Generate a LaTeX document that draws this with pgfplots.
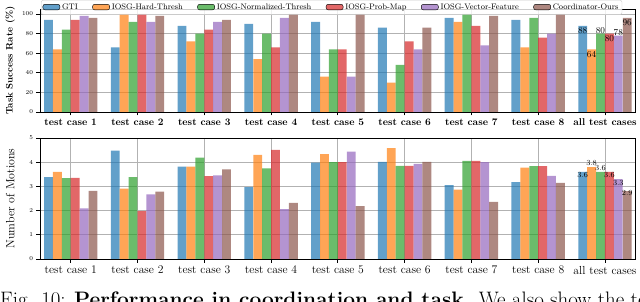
\documentclass[border=0pt]{standalone}
\usepackage{pgfplots}
\usepackage{pgfplotstable}
\pgfplotsset{compat=1.18}
\definecolor{tBlue}{RGB}{31,119,180}
\definecolor{tOrange}{RGB}{255,127,14}
\definecolor{tGreen}{RGB}{44,160,44}
\definecolor{tRed}{RGB}{214,39,40}
\definecolor{tPurple}{RGB}{148,103,189}
\definecolor{tBrown}{RGB}{140,86,75}

\pgfplotstableread{
x gti hard norm prob vec ours
0 94 64 84 94 98 96
1 66 100 92 100 92 98
2 88 72 80 84 92 94
3 90 54 80 66 96 100
4 92 36 64 64 36 100
5 86 30 48 72 64 86
6 96 92 100 88 68 98
7 94 66 96 76 80 100
8 88 64 80 80 78 96
}\successtable

\pgfplotstableread{
x gti hard norm prob vec ours
0 3.38 3.60 3.34 3.35 2.09 2.82
1 4.48 2.91 3.38 1.98 2.67 2.78
2 3.82 3.82 4.19 3.42 3.46 3.70
3 2.97 4.30 3.74 4.51 2.06 2.32
4 3.98 4.33 4.00 4.00 4.44 2.19
5 4.01 4.58 3.85 3.85 3.93 4.01
6 3.05 2.87 4.05 4.05 4.00 2.36
7 3.18 3.78 3.84 3.84 3.44 3.15
8 3.60 3.80 3.60 3.60 3.30 2.80
}\motiontable

\pgfplotsset{
  mybase/.style={
    scale only axis, width=595bp,
    xmin=-0.46, xmax=8.45,
    ybar, bar width=0.133,
    xtick={0,...,8},
    xticklabels={test case 1,test case 2,test case 3,test case 4,test case 5,test case 6,test case 7,test case 8,all test cases},
    grid=major, major grid style={color=black!30, line width=0.8bp},
    axis line style={line width=0.8bp},
    tick style={black, line width=0.8bp},
    tick align=outside, major tick length=3.5bp, tick pos=left,
    yticklabel style={font=\fontsize{6.5}{7}\selectfont},
    ylabel style={at={(axis description cs:-0.05,0.5)}, anchor=center},
  },
  bGTI/.style={fill=tBlue, fill opacity=0.7, draw=none, bar shift=-0.3333},
  bHard/.style={fill=tOrange, fill opacity=0.7, draw=none, bar shift=-0.2},
  bNorm/.style={fill=tGreen, fill opacity=0.7, draw=none, bar shift=-0.0667},
  bProb/.style={fill=tRed, fill opacity=0.7, draw=none, bar shift=0.0667},
  bVec/.style={fill=tPurple, fill opacity=0.7, draw=none, bar shift=0.2},
  bOurs/.style={fill=tBrown, fill opacity=0.7, draw=none, bar shift=0.3333},
}

\begin{document}
\begin{tikzpicture}
\useasboundingbox (0,0) rectangle (640bp,302bp);

\begin{axis}[mybase,
  at={(40bp,190bp)}, anchor=south west,
  height=102.9bp,
  ymin=0, ymax=105, ytick={0,20,...,100},
  xticklabel style={font=\fontsize{10}{12}\selectfont\bfseries},
  ylabel={\textbf{Task Success Rate (\%)}},
  ylabel style={font=\fontsize{9.5}{11}\selectfont},
  legend columns=6,
  legend style={at={(rel axis cs:0,1)}, anchor=north west, xshift=1bp, yshift=9bp,
    draw=black!20, fill=white, fill opacity=0.8, text opacity=1,
    rounded corners=2bp, inner sep=1.5bp,
    font=\fontsize{8}{9}\selectfont,
    /tikz/every even column/.append style={column sep=12.5bp}},
  legend image code/.code={\draw[#1] (0bp,-2.5bp) rectangle (17bp,3bp);},
]
\addplot[bGTI] table[x=x,y=gti]{\successtable};
\addplot[bHard] table[x=x,y=hard]{\successtable};
\addplot[bNorm] table[x=x,y=norm]{\successtable};
\addplot[bProb] table[x=x,y=prob]{\successtable};
\addplot[bVec] table[x=x,y=vec]{\successtable};
\addplot[bOurs] table[x=x,y=ours]{\successtable};
\legend{GTI,IOSG-Hard-Thresh,IOSG-Normalized-Thresh,IOSG-Prob-Map,IOSG-Vector-Feature,Coordinator-Ours}
\begin{scope}[every node/.style={font=\fontsize{9}{10}\selectfont, inner sep=0pt}]
\node at (axis cs:7.667,83) {88};
\node at (axis cs:7.8,58.5) {64};
\node at (axis cs:7.933,83) {80};
\node at (axis cs:8.067,74.5) {80};
\node at (axis cs:8.2,81.3) {78};
\node at (axis cs:8.333,91) {96};
\end{scope}
\end{axis}

\begin{axis}[mybase,
  at={(40bp,43bp)}, anchor=south west,
  height=121bp,
  ymin=0, ymax=5, ytick={0,...,5},
  xticklabel style={font=\fontsize{11.7}{13}\selectfont},
  ylabel={Number of Motions},
  ylabel style={font=\fontsize{12}{13}\selectfont},
]
\addplot[bGTI] table[x=x,y=gti]{\motiontable};
\addplot[bHard] table[x=x,y=hard]{\motiontable};
\addplot[bNorm] table[x=x,y=norm]{\motiontable};
\addplot[bProb] table[x=x,y=prob]{\motiontable};
\addplot[bVec] table[x=x,y=vec]{\motiontable};
\addplot[bOurs] table[x=x,y=ours]{\motiontable};
\begin{scope}[every node/.style={font=\fontsize{7.8}{9}\selectfont, inner sep=0pt}]
\node at (axis cs:7.667,3.47) {3.6};
\node at (axis cs:7.8,3.95) {3.8};
\node at (axis cs:7.933,3.75) {3.6};
\node at (axis cs:8.067,3.47) {3.6};
\node at (axis cs:8.2,3.15) {3.3};
\node at (axis cs:8.333,2.74) {2.9};
\end{scope}
\end{axis}

\node[anchor=base west, inner sep=0pt, font=\fontsize{21}{24}\selectfont] at (0bp,-4bp)
  {Fig. 10: \textbf{Performance in coordination and task.} We also show the test};
\end{tikzpicture}
\end{document}
